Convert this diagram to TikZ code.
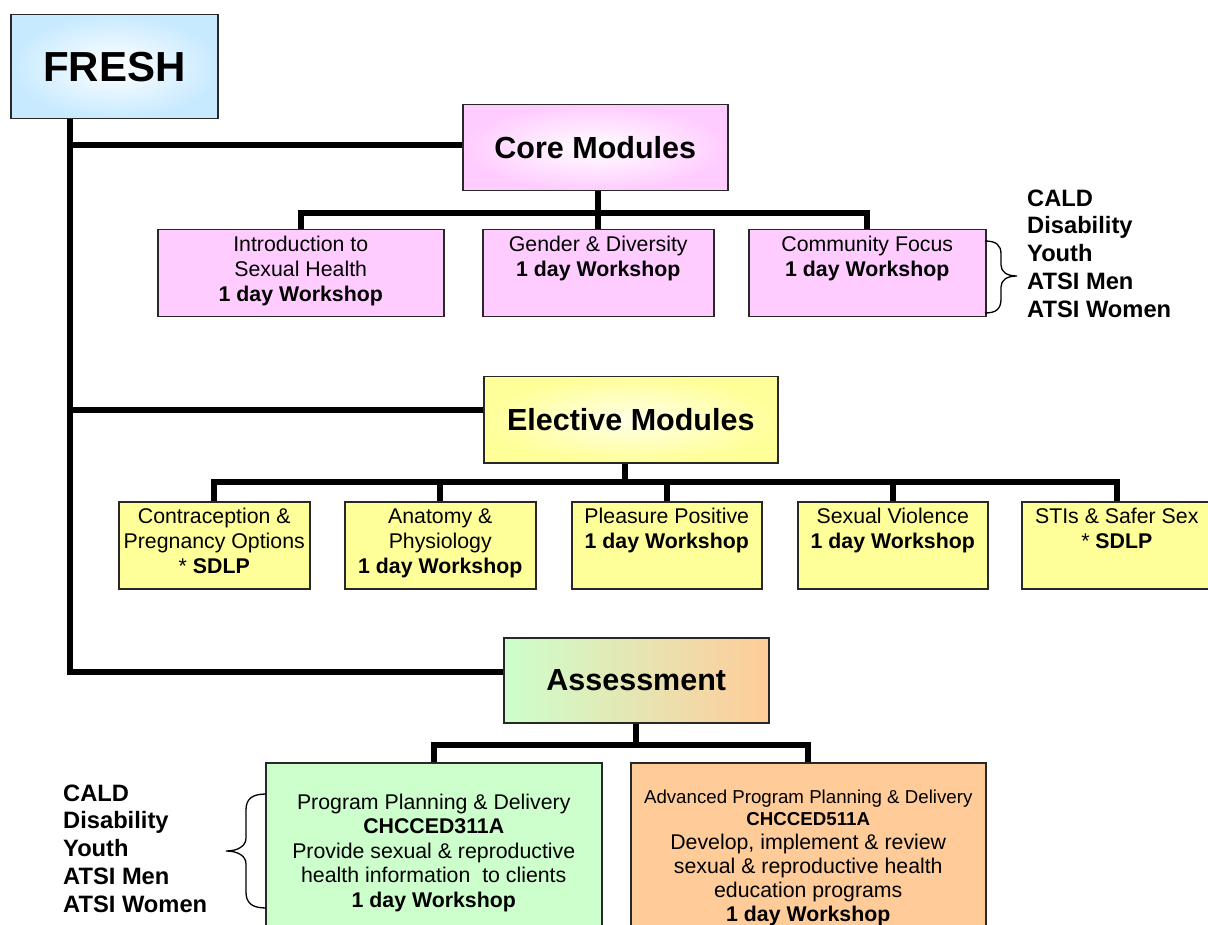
\documentclass[tikz,border=0pt]{standalone}
\usepackage{fontspec}
\setmainfont{Liberation Sans}
\definecolor{bluef}{RGB}{200,234,255}
\definecolor{pinkf}{RGB}{255,204,255}
\definecolor{yellf}{RGB}{255,255,153}
\definecolor{yellc}{RGB}{255,255,232}
\definecolor{greenf}{RGB}{204,255,204}
\definecolor{orangef}{RGB}{255,204,153}
\definecolor{bord}{RGB}{40,40,40}
\newcommand{\boxcontent}[3]{\parbox[c][#1][t]{#2}{\centering #3}}
\begin{document}
\begin{tikzpicture}[x=1pt,y=-1pt,
  conn/.style={line width=6pt, line join=miter, black},
  hbox/.style={draw=bord, line width=1.5pt, inner sep=0pt, anchor=north west,
    font=\bfseries\fontsize{30.5}{36}\selectfont},
  pbox/.style={draw=bord, line width=1.5pt, inner sep=0pt, anchor=north west,
    font=\fontsize{21.3}{25}\selectfont},
  listtext/.style={anchor=north west, inner sep=0pt, align=left,
    font=\bfseries\fontsize{23.7}{27.7}\selectfont},
  bracepath/.style={line width=1.3pt, black}]
\useasboundingbox (0,0) rectangle (1208,925);
\clip (0,0) rectangle (1208,925);
\fill[white] (0,0) rectangle (1208,925);

% coordinates for connector levels
\coordinate (tx) at (70,0);
\coordinate (coreY) at (0,145);
\coordinate (elY) at (0,410);
\coordinate (asY) at (0,672);
\coordinate (cbY) at (0,213);
\coordinate (ebY) at (0,482);
\coordinate (abY) at (0,745);

% heading boxes
\node[hbox, minimum width=207pt, minimum height=104pt, inner color=white, outer color=bluef,
  font=\bfseries\fontsize{42}{48}\selectfont] (fresh) at (10,14) {FRESH};
\node[hbox, minimum width=265pt, minimum height=86pt, inner color=white, outer color=pinkf] (core) at (462,104) {Core Modules};
\node[hbox, minimum width=294pt, minimum height=86pt, inner color=yellc, outer color=yellf] (elect) at (483,376) {Elective Modules};
\node[hbox, minimum width=265pt, minimum height=85pt, left color=greenf, right color=orangef] (assess) at (503,637) {Assessment};

% core module boxes
\node[pbox, fill=pinkf] (c1) at (157,229) {\boxcontent{87pt}{286pt}{\rule{0pt}{21.6pt}Introduction to\\ Sexual Health\\ \textbf{1 day Workshop}}};
\node[pbox, fill=pinkf] (c2) at (482,229) {\boxcontent{87pt}{231pt}{\rule{0pt}{21.6pt}Gender \& Diversity\\ \textbf{1 day Workshop}}};
\node[pbox, fill=pinkf] (c3) at (748,229) {\boxcontent{87pt}{237pt}{\rule{0pt}{21.6pt}Community Focus\\ \textbf{1 day Workshop}}};

% elective module boxes
\node[pbox, fill=yellf] (e1) at (118,501) {\boxcontent{87pt}{191pt}{\rule{0pt}{21.6pt}Contraception \&\\ Pregnancy Options\\ {*} \textbf{SDLP}}};
\node[pbox, fill=yellf] (e2) at (344,501) {\boxcontent{87pt}{191pt}{\rule{0pt}{21.6pt}Anatomy \&\\ Physiology\\ \textbf{1 day Workshop}}};
\node[pbox, fill=yellf] (e3) at (571,501) {\boxcontent{87pt}{190pt}{\rule{0pt}{21.6pt}Pleasure Positive\\ \textbf{1 day Workshop}}};
\node[pbox, fill=yellf] (e4) at (797,501) {\boxcontent{87pt}{190pt}{\rule{0pt}{21.6pt}Sexual Violence\\ \textbf{1 day Workshop}}};
\node[pbox, fill=yellf] (e5) at (1021,501) {\boxcontent{87pt}{190pt}{\rule{0pt}{21.6pt}STIs \& Safer Sex\\ {*} \textbf{SDLP}}};

% assessment boxes
\node[pbox, fill=greenf, font=\fontsize{21.3}{24.5}\selectfont] (g) at (265,762) {\boxcontent{220pt}{336pt}{\rule{0pt}{46.6pt}Program Planning \& Delivery\\ \textbf{CHCCED311A}\\ Provide sexual \& reproductive\\ health information\ \ to clients\\ \textbf{1 day Workshop}}};
\node[pbox, fill=orangef, font=\fontsize{21.3}{24}\selectfont] (o) at (630,762) {\boxcontent{220pt}{355pt}{{\fontsize{18.7}{22}\selectfont\rule{0pt}{40.7pt}Advanced Program Planning \& Delivery\\ \textbf{CHCCED511A}\par}Develop, implement \& review\\ sexual \& reproductive health\\ education programs\\ \textbf{1 day Workshop}}};

% trunk and branches
\draw[conn] (fresh.south -| tx) -- (tx |- asY) -- (assess.west |- asY);
\draw[conn] (tx |- coreY) -- (core.west |- coreY);
\draw[conn] (tx |- elY) -- (elect.west |- elY);

% core bus
\draw[conn] (core.south -| c2.north) -- (c2.north);
\draw[conn] (c1.north) |- (c3.north |- cbY) -- (c3.north);

% elective bus
\draw[conn] (elect.south -| 625,0) -- (625,482);
\draw[conn] (e1.north) |- (e5.north |- ebY) -- (e5.north);
\draw[conn] (e2.north) -- (e2.north |- ebY);
\draw[conn] (e3.north) -- (e3.north |- ebY);
\draw[conn] (e4.north) -- (e4.north |- ebY);

% assessment bus
\draw[conn] (assess.south) -- (assess.south |- abY);
\draw[conn] (g.north) |- (o.north |- abY) -- (o.north);

% target group lists
\node[listtext] (rlist) at (1027,189.5) {CALD\\ Disability\\ Youth\\ ATSI Men\\ ATSI Women};
\node[listtext] (llist) at (63,784.5) {CALD\\ Disability\\ Youth\\ ATSI Men\\ ATSI Women};

% braces
\draw[bracepath] (985,241) .. controls (996,241) and (1001,245) .. (1001,254)
  -- (1001,265) .. controls (1001,272) and (1007,276) .. (1017,276)
  .. controls (1007,276) and (1001,280) .. (1001,287)
  -- (1001,299) .. controls (1001,309) and (996,313) .. (985,313);
\draw[bracepath] (266,794) .. controls (252,794) and (246,799) .. (246,810)
  -- (246,838) .. controls (246,846) and (238,851) .. (226,851)
  .. controls (238,851) and (246,856) .. (246,864)
  -- (246,892) .. controls (246,903) and (252,908) .. (266,908);
\end{tikzpicture}
\end{document}
